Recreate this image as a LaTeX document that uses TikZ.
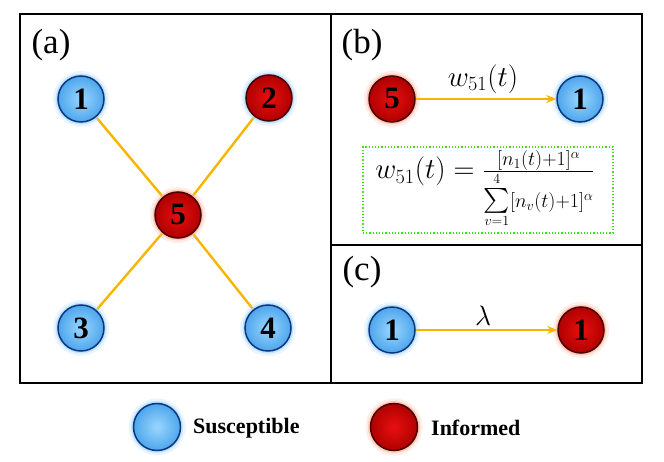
\RequirePackage{fix-cm}
\documentclass[tikz,border=0pt]{standalone}
\usepackage{amsmath}
\usepackage{fontspec}
\setmainfont{Liberation Serif}
\usetikzlibrary{arrows.meta}
\definecolor{edgeor}{HTML}{F7B500}
\definecolor{bluedark}{HTML}{0B3680}
\definecolor{bluelt}{HTML}{9AD6FF}
\definecolor{bluemid}{HTML}{4EA6EC}
\definecolor{blueglow}{HTML}{A8D8FF}
\definecolor{reddark}{HTML}{4A0000}
\definecolor{redlt}{HTML}{E81010}
\definecolor{redmid}{HTML}{B00000}
\definecolor{redglow}{HTML}{FFB8A0}
\definecolor{boxgreen}{HTML}{44DD22}
\tikzset{
  ball/.style={circle, minimum size=46pt, inner sep=0pt, line width=1.5pt,
    font=\fontsize{31}{31}\selectfont\bfseries, text=black, shade},
  sus/.style={ball, draw=bluedark, inner color=bluelt, outer color=bluemid,
    preaction={draw=blueglow, line width=10pt, opacity=0.25},
    preaction={draw=blueglow, line width=5pt, opacity=0.6}},
  inf/.style={ball, draw=reddark, inner color=redlt, outer color=redmid,
    preaction={draw=redglow, line width=10pt, opacity=0.25},
    preaction={draw=redglow, line width=5pt, opacity=0.6}},
  infb/.style={ball, draw=reddark, inner color=redlt, outer color=redmid,
    preaction={draw=blueglow, line width=10pt, opacity=0.25},
    preaction={draw=blueglow, line width=5pt, opacity=0.6}},
  link/.style={draw=edgeor, line width=2.4pt},
  arr/.style={draw=edgeor, line width=2.2pt, -{Stealth[length=10pt,width=8pt]}},
  frame/.style={draw=black, line width=2pt},
  panel/.style={font=\fontsize{35}{35}\selectfont, inner sep=0pt},
  legtext/.style={font=\fontsize{22}{22}\selectfont\bfseries, anchor=west, inner sep=0pt},
}
\newcommand{\partsz}{\fontsize{20}{24}\selectfont}
\begin{document}
\begin{tikzpicture}[x=1pt, y=-1pt]
\useasboundingbox (0,0) rectangle (664,462);
% frames
\coordinate (tl) at (20,14);
\coordinate (br) at (642,383);
\coordinate (vt) at (331,14);
\coordinate (vb) at (331,383);
\coordinate (hl) at (331,245);
\coordinate (hr) at (642,245);
\draw[frame] (tl) rectangle (br);
\draw[frame] (vt) -- (vb);
\draw[frame] (hl) -- (hr);
% panel labels
\node[panel] (la) at (51,45) {(a)};
\node[panel] (lb) at (362,45) {(b)};
\node[panel] (lc) at (362,272) {(c)};
% panel (a): coordinates first, links, then balls
\coordinate (p1) at (81,99);
\coordinate (p2) at (269,98);
\coordinate (p3) at (81,328);
\coordinate (p4) at (268,328);
\coordinate (p5) at (178,215);
\path[link] (p1) -- (p5);
\path[link] (p2) -- (p5);
\path[link] (p3) -- (p5);
\path[link] (p4) -- (p5);
\node[sus] (a1) at (p1) {1};
\node[infb] (a2) at (p2) {2};
\node[sus] (a3) at (p3) {3};
\node[sus] (a4) at (p4) {4};
\node[inf] (a5) at (p5) {5};
% panel (b)
\node[inf] (b5) at (392,99) {5};
\node[sus] (b1) at (580,99) {1};
\path[arr] (b5) -- (b1);
\node (wl) at (483,79) {\fontsize{29}{29}\selectfont $w_{51}(t)$};
\node[draw=boxgreen, dotted, line width=1.2pt, minimum width=250pt, minimum height=86pt] (fbox) at (488,190) {};
\node (formula) at (485,189) {\fontsize{29}{32}\selectfont $w_{51}(t)=\genfrac{}{}{0.8pt}{}{\mbox{\partsz$[n_1(t){+}1]^{\alpha}$}}{\mbox{\partsz$\mathop{\mbox{\fontsize{28}{28}\selectfont$\sum$}}\limits_{v=1}^{4}[n_v(t){+}1]^{\alpha}$}}$};
% panel (c)
\node[sus] (c1) at (392,330) {1};
\node[inf] (c2) at (581,330) {1};
\path[arr] (c1) -- (c2);
\node (lam) at (483,316) {\fontsize{28}{28}\selectfont $\lambda$};
% legend
\node[sus, minimum size=47pt] (ls) at (157,427) {};
\node[legtext] (lst) at (193,428) {Susceptible};
\node[inf, minimum size=47pt] (li) at (394,427) {};
\node[legtext] (lit) at (431,428) {Informed};
\end{tikzpicture}
\end{document}
